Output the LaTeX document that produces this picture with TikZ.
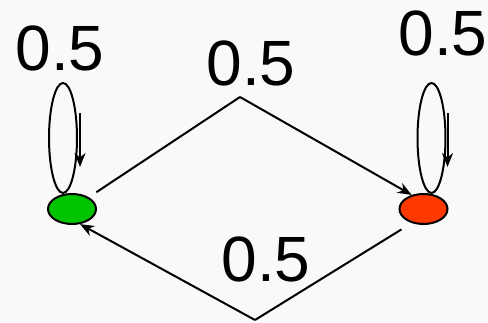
\documentclass[tikz,border=0pt]{standalone}
\usepackage{fontspec}
\setmainfont{Liberation Sans}
\usetikzlibrary{shapes.geometric, arrows.meta, calc}
\definecolor{state-green}{RGB}{0,196,0}
\definecolor{state-red}{RGB}{255,56,0}

\begin{document}
\begin{tikzpicture}[x=1pt, y=1pt,
  state/.style={draw, ellipse, line width=2pt, minimum width=48pt, minimum height=30pt, inner sep=0pt},
  loopring/.style={draw, ellipse, line width=2pt, minimum width=28pt, minimum height=110pt, inner sep=0pt},
  prob/.style={inner sep=0pt, font=\fontsize{64}{64}\selectfont},
  edge/.style={line width=2pt},
  arr/.style={-{Stealth[length=14pt, width=11pt]}, line width=2pt},
]
  \fill[gray!5] (0,0) rectangle (488,322);
  \useasboundingbox (0,0) rectangle (488,322);

  \node[state, fill=state-green] (green) at (72,113) {};
  \node[state, fill=state-red] (red) at (423.5,113) {};
  \node[loopring] (loopL) at (63,184) {};
  \node[loopring] (loopR) at (431.5,184) {};
  \coordinate (peak) at (240,225);
  \coordinate (dip) at (255,2);

  \node[prob] (pL) at (60,274) {0.5};
  \node[prob] (pR) at (443,289) {0.5};
  \node[prob] (pT) at (251,259) {0.5};
  \node[prob] (pB) at (266,63) {0.5};

  % self loops
  \draw[arr] ([xshift=2pt, yshift=25pt]loopL.east) -- ([xshift=2pt, yshift=-29pt]loopL.east);
  \draw[arr] ([xshift=1pt, yshift=25pt]loopR.east) -- ([xshift=1pt, yshift=-29pt]loopR.east);

  % transitions
  \draw[edge, shorten <=9pt] (green.35) -- (peak);
  \draw[arr] (peak) -- (red.130);
  \draw[edge, shorten <=12pt] (red.-130) -- (dip);
  \draw[arr] (dip) -- (green.-62);
\end{tikzpicture}
\end{document}
